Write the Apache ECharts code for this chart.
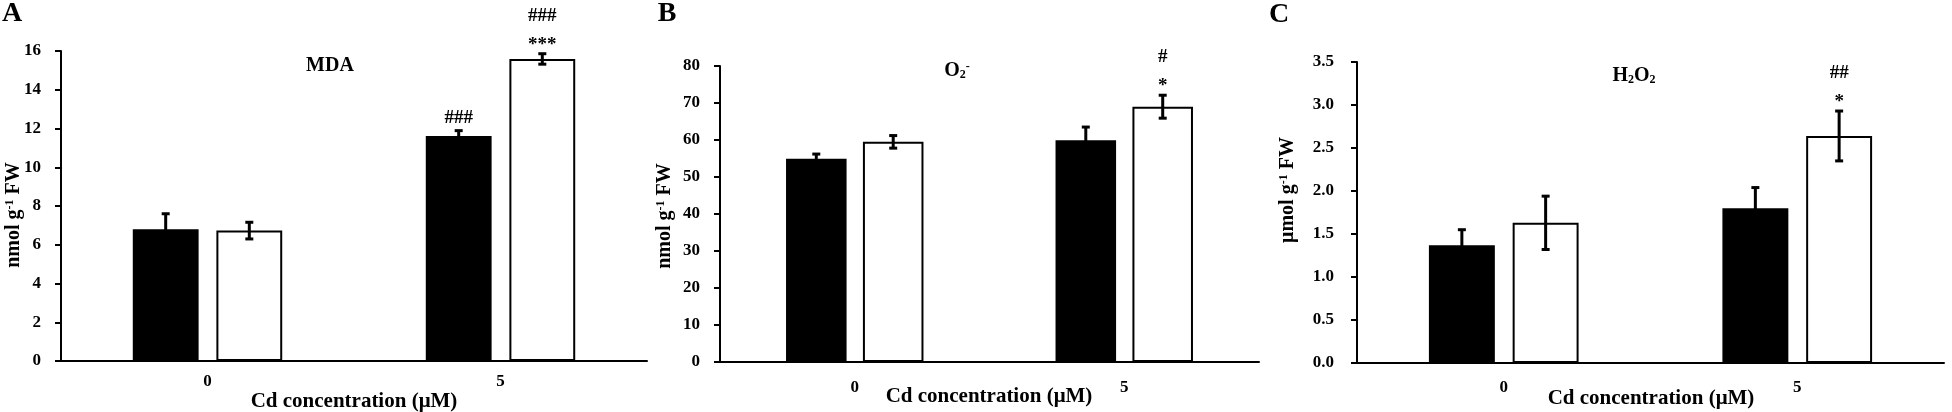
<!DOCTYPE html>
<html>
<head>
<meta charset="utf-8">
<title>MDA, O2- and H2O2 under Cd</title>
<script src="https://cdn.jsdelivr.net/npm/echarts/dist/echarts.min.js"></script>
<style>
  html, body { margin: 0; padding: 0; background: #fff; }
  #chart { width: 1952px; height: 412px; }
</style>
</head>
<body>
<div id="chart"></div>
<script>
const cdLevels = ['0', '5']

// black bars = control, white bars = treatment, values with SD
const mdaCtrl = [6.80, 11.61]
const mdaCtrlSd = [0.80, 0.28]
const mdaTreat = [6.73, 15.59]
const mdaTreatSd = [0.43, 0.27]

const o2Ctrl = [54.9, 59.9]
const o2CtrlSd = [1.3, 3.6]
const o2Treat = [59.5, 69.0]
const o2TreatSd = [1.7, 3.1]

const h2o2Ctrl = [1.37, 1.80]
const h2o2CtrlSd = [0.18, 0.24]
const h2o2Treat = [1.63, 2.64]
const h2o2TreatSd = [0.31, 0.29]

// significance marks: first row right above the error bar, second row above that
const mdaCtrlMarks = ['', '###']
const mdaTreatMarks = ['', '***']
const mdaTreatMarksTop = ['', '###']
const o2TreatMarks = ['', '*']
const o2TreatMarksTop = ['', '#']
const h2o2TreatMarks = ['', '*']
const h2o2TreatMarksTop = ['', '##']

const FONT = '"Liberation Serif", "Times New Roman", serif'

const chart = echarts.init(document.getElementById('chart'))

const xAxisFor = (gridIndex, labelMargin) => ({
  type: 'category',
  gridIndex: gridIndex,
  data: cdLevels,
  axisLine: { lineStyle: { color: '#000', width: 2 } },
  axisTick: { length: 6, lineStyle: { color: '#000', width: 2 } },
  axisLabel: { color: '#000', fontFamily: FONT, fontWeight: 'bold', fontSize: 17, margin: labelMargin },
})

const yAxisFor = (gridIndex, max, interval, labelMargin, digits) => ({
  type: 'value',
  gridIndex: gridIndex,
  min: 0,
  max: max,
  interval: interval,
  splitLine: { show: false },
  axisLine: { show: true, lineStyle: { color: '#000', width: 2 } },
  axisTick: { show: true, length: 6, lineStyle: { color: '#000', width: 2 } },
  axisLabel: {
    color: '#000', fontFamily: FONT, fontWeight: 'bold', fontSize: 17, margin: labelMargin,
    formatter: (v) => v.toFixed(digits),
  },
})

const barFor = (gridIndex, values, white) => ({
  type: 'bar',
  xAxisIndex: gridIndex,
  yAxisIndex: gridIndex,
  data: values,
  barGap: '27%',
  barCategoryGap: '49%',
  itemStyle: white
    ? { color: '#fff', borderColor: '#000', borderWidth: 2 }
    : { color: '#000' },
  emphasis: { disabled: true },
})

const markStyle = (text, x, y) => ({
  type: 'text',
  x: x,
  y: y,
  style: {
    text: text, fill: '#000', fontFamily: FONT, fontWeight: 'bold', fontSize: 19,
    textAlign: 'center', textVerticalAlign: 'middle', align: 'center', verticalAlign: 'middle',
  },
})

// error bars + marks, side = -1 for the left (black) bar, 1 for the right (white) bar
const errorFor = (gridIndex, means, sds, side, marks, marksTop) => ({
  type: 'custom',
  xAxisIndex: gridIndex,
  yAxisIndex: gridIndex,
  z: 5,
  data: means.map((m, i) => [i, m, sds[i]]),
  renderItem: (params, api) => {
    const i = api.value(0)
    const m = api.value(1)
    const sd = api.value(2)
    const band = api.size([1, 0])[0]
    const hi = api.coord([i, m + sd])
    const lo = api.coord([i, m - sd])
    const x = hi[0] + side * band * 0.1427
    const style = { stroke: '#000', lineWidth: 3 }
    const children = [
      { type: 'line', shape: { x1: x, y1: hi[1], x2: x, y2: lo[1] }, style: style },
      { type: 'line', shape: { x1: x - 4, y1: hi[1], x2: x + 4, y2: hi[1] }, style: style },
      { type: 'line', shape: { x1: x - 4, y1: lo[1], x2: x + 4, y2: lo[1] }, style: style },
    ]
    const near = marks ? marks[params.dataIndex] : ''
    const far = marksTop ? marksTop[params.dataIndex] : ''
    if (near) {
      const off = near.charAt(0) === '*' ? 9 : 13
      children.push(markStyle(near, x, hi[1] - off))
    }
    if (far) children.push(markStyle(far, x, hi[1] - 38))
    return { type: 'group', children: children }
  },
})

const richText = (fontSize) => ({
  sup: { fontFamily: FONT, fontWeight: 'bold', fontSize: Math.round(fontSize * 0.62), verticalAlign: 'top', fill: '#000' },
  sub: { fontFamily: FONT, fontWeight: 'bold', fontSize: Math.round(fontSize * 0.62), verticalAlign: 'bottom', fill: '#000' },
  b: { fontFamily: FONT, fontWeight: 'bold', fontSize: fontSize, fill: '#000' },
})

const label = (text, x, y, fontSize, rotate) => ({
  type: 'text',
  x: x,
  y: y,
  rotation: rotate ? Math.PI / 2 : 0,
  style: {
    text: text, rich: richText(fontSize), fill: '#000',
    fontFamily: FONT, fontWeight: 'bold', fontSize: fontSize,
    textAlign: 'center', textVerticalAlign: 'middle', align: 'center', verticalAlign: 'middle',
  },
})

const option = {
  backgroundColor: '#fff',
  animation: false,
  grid: [
    { left: 61, top: 51, width: 586, height: 310 },
    { left: 720, top: 66, width: 539, height: 296 },
    { left: 1357, top: 62, width: 587, height: 301 },
  ],
  xAxis: [xAxisFor(0, 12), xAxisFor(1, 17), xAxisFor(2, 16)],
  yAxis: [
    yAxisFor(0, 16, 2, 20, 0),
    yAxisFor(1, 80, 10, 20, 0),
    yAxisFor(2, 3.5, 0.5, 23, 1),
  ],
  series: [
    barFor(0, mdaCtrl, false),
    barFor(0, mdaTreat, true),
    errorFor(0, mdaCtrl, mdaCtrlSd, -1, mdaCtrlMarks, null),
    errorFor(0, mdaTreat, mdaTreatSd, 1, mdaTreatMarks, mdaTreatMarksTop),

    barFor(1, o2Ctrl, false),
    barFor(1, o2Treat, true),
    errorFor(1, o2Ctrl, o2CtrlSd, -1, null, null),
    errorFor(1, o2Treat, o2TreatSd, 1, o2TreatMarks, o2TreatMarksTop),

    barFor(2, h2o2Ctrl, false),
    barFor(2, h2o2Treat, true),
    errorFor(2, h2o2Ctrl, h2o2CtrlSd, -1, null, null),
    errorFor(2, h2o2Treat, h2o2TreatSd, 1, h2o2TreatMarks, h2o2TreatMarksTop),
  ],
  graphic: [
    label('{b|A}', 12, 14, 28),
    label('{b|B}', 667, 14, 28),
    label('{b|C}', 1279, 15, 28),

    label('{b|MDA}', 330, 66, 20),
    label('{b|O}{sub|2}{sup|-}', 957, 71, 20),
    label('{b|H}{sub|2}{b|O}{sub|2}', 1634, 76, 20),

    label('{b|nmol g}{sup|-1}{b| FW}', 14, 215, 20, true),
    label('{b|nmol g}{sup|-1}{b| FW}', 665, 216, 20, true),
    label('{b|μmol g}{sup|-1}{b| FW}', 1288, 190, 20, true),

    label('{b|Cd concentration (μM)}', 354, 402, 21),
    label('{b|Cd concentration (μM)}', 989, 397, 21),
    label('{b|Cd concentration (μM)}', 1651, 399, 21),
  ],
}

chart.setOption(option)
</script>
</body>
</html>
